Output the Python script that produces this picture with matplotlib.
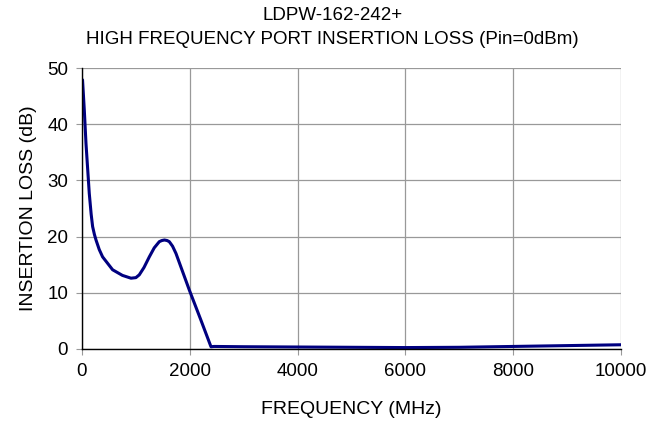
import matplotlib
matplotlib.use("Agg")
import matplotlib.pyplot as plt
import numpy as np

# Insertion loss
freq_mhz = [10, 43, 74, 135, 170, 197, 230, 260, 320, 382, 568, 750, 909, 1000,
            1063, 1150, 1249, 1340, 1434, 1480, 1530, 1580, 1620, 1680, 1744,
            1991, 2200, 2393, 2450, 3000, 4000, 5000, 6000, 7000, 8000, 9000,
            10000]
loss_db = [47.9, 42.5, 36.6, 27.7, 24.0, 21.8, 20.4, 19.4, 17.7, 16.4, 14.1,
           13.1, 12.6, 12.7, 13.2, 14.5, 16.4, 18.0, 19.1, 19.3, 19.4, 19.3,
           19.1, 18.3, 17.0, 10.5, 5.3, 0.4, 0.45, 0.4, 0.35, 0.3, 0.25, 0.3,
           0.45, 0.6, 0.75]

x_ticks = [0, 2000, 4000, 6000, 8000, 10000]
y_ticks = [0, 10, 20, 30, 40, 50]

plt.rcParams.update({"font.family": "Liberation Sans", "font.size": 13})

fig = plt.figure(figsize=(6.65, 4.23), dpi=100)
ax = fig.add_axes([0.1233, 0.175, 0.8105, 0.664])

ax.plot(freq_mhz, loss_db, color="#000080", linewidth=2.2,
        solid_capstyle="round", solid_joinstyle="round")

ax.set_xlim(0, 10000)
ax.set_ylim(0, 50)
ax.set_xticks(x_ticks)
ax.set_yticks(y_ticks)
ax.grid(True, color="#999999", linewidth=0.9)
ax.set_axisbelow(True)
for side in ("top", "right"):
    ax.spines[side].set_visible(False)
for side in ("left", "bottom"):
    ax.spines[side].set_color("black")
    ax.spines[side].set_linewidth(1.0)
ax.tick_params(direction="out", length=4, width=0.8, color="#999999",
               labelcolor="black", labelsize=13.5, pad=6)

ax.set_xlabel("FREQUENCY (MHz)", fontsize=14, labelpad=15)
ax.set_ylabel("INSERTION LOSS (dB)", fontsize=14, labelpad=7)

fig.text(0.5, 1 - 15 / 423, "LDPW-162-242+", ha="center", va="center", fontsize=13.5)
fig.text(0.5, 1 - 40 / 423, "HIGH FREQUENCY PORT INSERTION LOSS (Pin=0dBm)",
         ha="center", va="center", fontsize=13.5)

fig.savefig("out.png", dpi=100)
